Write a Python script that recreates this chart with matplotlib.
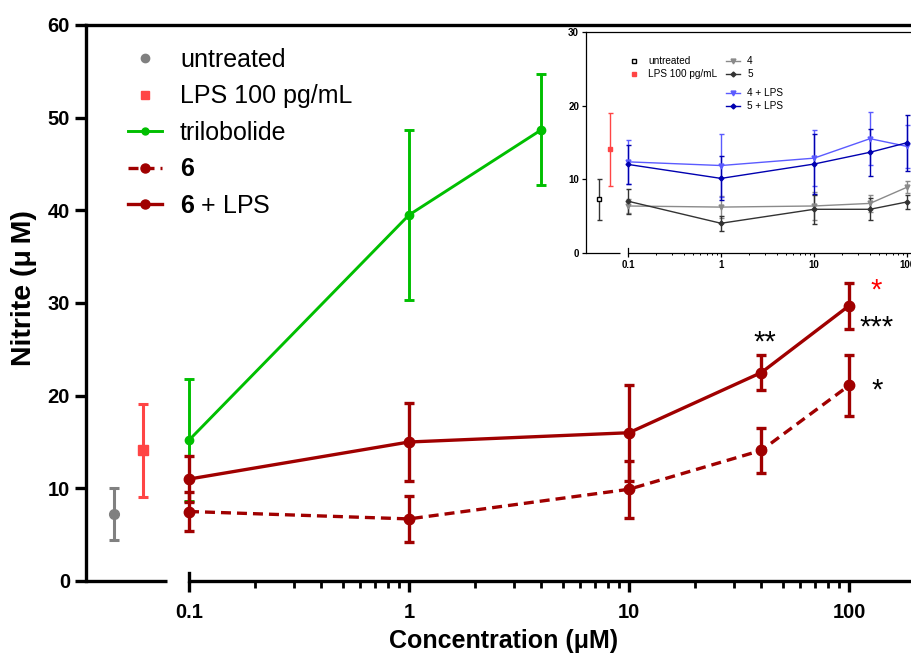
import matplotlib
matplotlib.use("Agg")
import matplotlib.pyplot as plt
from matplotlib.lines import Line2D
from matplotlib.ticker import FixedLocator, FixedFormatter, NullFormatter

plt.rcParams['font.family'] = ['Liberation Sans', 'DejaVu Sans']
plt.rcParams['font.weight'] = 'bold'
plt.rcParams['mathtext.fontset'] = 'custom'
plt.rcParams['mathtext.bf'] = 'Liberation Sans:bold'
plt.rcParams['mathtext.rm'] = 'Liberation Sans'

# ---- data (main plot) ----
untreated_mean, untreated_sd = 7.2, 2.8
lps_mean, lps_sd = 14.1, 5.0

conc_tri = [0.1, 1, 4]
tri_mean = [15.2, 39.5, 48.7]
tri_sd = [6.6, 9.2, 6.0]

conc = [0.1, 1, 10, 40, 100]
c6_mean = [7.5, 6.7, 9.9, 14.1, 21.1]
c6_sd = [2.1, 2.5, 3.1, 2.4, 3.3]
c6lps_mean = [11.0, 15.0, 16.0, 22.5, 29.7]
c6lps_sd = [2.5, 4.2, 5.2, 1.9, 2.5]

# ---- data (inset) ----
in_untreated_mean, in_untreated_sd = 7.25, 2.8
in_lps_mean, in_lps_sd = 14.05, 5.0
c4_mean = [6.35, 6.2, 6.35, 6.7, 8.9]
c4_sd = [1.0, 1.5, 1.9, 1.1, 0.85]
c5_mean = [7.0, 4.0, 5.9, 5.9, 6.9]
c5_sd = [1.7, 1.0, 2.0, 1.5, 1.0]
c4lps_mean = [12.35, 11.85, 12.85, 15.5, 14.45]
c4lps_sd = [3.0, 4.3, 3.8, 3.6, 2.9]
c5lps_mean = [12.0, 10.1, 12.05, 13.65, 14.95]
c5lps_sd = [2.7, 3.0, 4.1, 3.2, 3.8]

GREY = '#808080'
LPSRED = '#ff4545'
GREEN = '#00bf00'
DARKRED = '#a00000'

W, H = 911, 655
fig = plt.figure(figsize=(W / 100, H / 100), dpi=100)


def main_x(px):
    # pixel column -> concentration on the main log axis
    return 10 ** (-1 + (px - 189) / 220)


def inset_x(px):
    return 10 ** (-1 + (px - 628) / 93)


# ================= main axes =================
ax = fig.add_axes([86 / W, 74 / H, (1000 - 86) / W, 556 / H])
ax.set_xscale('log')
ax.set_xlim(main_x(86), main_x(1000))
ax.set_ylim(0, 60)

ctrl_x = [main_x(114), main_x(143)]
ax.errorbar([ctrl_x[0]], [untreated_mean], yerr=[untreated_sd], color=GREY, marker='o',
            ms=7, capsize=3.5, capthick=2.2, elinewidth=2.2)
ax.errorbar([ctrl_x[1]], [lps_mean], yerr=[lps_sd], color=LPSRED, marker='s',
            ms=6.5, capsize=3.5, capthick=2.2, elinewidth=2.2)

ax.errorbar(conc_tri, tri_mean, yerr=tri_sd, color=GREEN, lw=2.1, marker='o', ms=6,
            capsize=3.5, capthick=2.1, elinewidth=2.1)
ax.errorbar(conc, c6_mean, yerr=c6_sd, color=DARKRED, lw=2.4, ls=(0, (3, 1.8)),
            marker='o', ms=7.5, capsize=3.5, capthick=2.4, elinewidth=2.4)
ax.errorbar(conc, c6lps_mean, yerr=c6lps_sd, color=DARKRED, lw=2.4, marker='o',
            ms=7.5, capsize=3.5, capthick=2.4, elinewidth=2.4)

# significance marks
star_kw = dict(fontsize=21, fontweight='normal', ha='center', va='center')
ax.text(main_x(876), 31.3, '*', color='red', **star_kw)
ax.text(main_x(877), 27.3, '***', color='black', **star_kw)
ax.text(main_x(765), 25.7, '**', color='black', **star_kw)
ax.text(main_x(877), 20.6, '*', color='black', **star_kw)

# axes styling, broken x axis
for s in ['left', 'top']:
    ax.spines[s].set_linewidth(2.4)
ax.spines['right'].set_visible(False)
ax.spines['bottom'].set_visible(False)
ax.plot([main_x(86), main_x(167)], [0, 0], color='black', lw=2.4, clip_on=False,
        solid_capstyle='butt')
ax.plot([0.1, main_x(1000)], [0, 0], color='black', lw=2.4, clip_on=False,
        solid_capstyle='butt')
ax.axvline(0.1, ymin=0, ymax=0.014, color='black', lw=2.4, clip_on=False)

ax.xaxis.set_major_locator(FixedLocator([0.1, 1, 10, 100]))
ax.xaxis.set_major_formatter(FixedFormatter(['0.1', '1', '10', '100']))
ax.xaxis.set_minor_locator(FixedLocator([m * 10.0 ** e for e in (-1, 0, 1) for m in range(2, 10)]))
ax.xaxis.set_minor_formatter(NullFormatter())
ax.set_yticks([0, 10, 20, 30, 40, 50, 60])
ax.tick_params(axis='both', which='major', length=8, width=2.4, labelsize=14.5)
ax.tick_params(axis='x', which='major', pad=8)
ax.tick_params(axis='x', which='minor', length=5, width=2.0)

fig.text(24 / W, 1 - 288 / H, 'Nitrite (μ\u2009M)', rotation=90, fontsize=20.5,
         ha='center', va='center')
fig.text(504 / W, 1 - 641 / H, 'Concentration (μM)', fontsize=18,
         ha='center', va='center')

main_handles = [
    Line2D([], [], color=GREY, marker='o', ls='none', ms=6),
    Line2D([], [], color=LPSRED, marker='s', ls='none', ms=6),
    Line2D([], [], color=GREEN, marker='o', lw=2.1, ms=5),
    Line2D([], [], color=DARKRED, marker='o', lw=2.4, ls=(0, (3, 1.8)), ms=6.5),
    Line2D([], [], color=DARKRED, marker='o', lw=2.4, ms=6.5),
]
main_labels = ['untreated', 'LPS 100 pg/mL', 'trilobolide', r'$\mathbf{6}$',
               r'$\mathbf{6}$ + LPS']
fig.legend(main_handles, main_labels, loc='upper left', bbox_to_anchor=(128 / W, 1 - 48 / H),
           frameon=False, borderpad=0, borderaxespad=0, handlelength=1.36,
           handletextpad=0.72, labelspacing=0.5, prop={'size': 18, 'weight': 'normal'})

# ================= inset =================
ins = fig.add_axes([586 / W, (H - 252.7) / H, (1000 - 586) / W, 220.7 / H])
ins.set_xscale('log')
ins.set_xlim(inset_x(586), inset_x(1000))
ins.set_ylim(0, 30)

in_ctrl_x = [inset_x(599), inset_x(610)]
ins.errorbar([in_ctrl_x[0]], [in_untreated_mean], yerr=[in_untreated_sd], color='#333333',
             marker='s', mfc='white', mec='black', ms=3.5, mew=1, capsize=1.8, elinewidth=1)
ins.errorbar([in_ctrl_x[1]], [in_lps_mean], yerr=[in_lps_sd], color=LPSRED,
             marker='s', ms=2.5, capsize=1.8, elinewidth=1)

inset_series = [
    (c4_mean, c4_sd, '#8a8a8a', 'v', 3.5),
    (c5_mean, c5_sd, '#333333', 'D', 2.5),
    (c4lps_mean, c4lps_sd, '#5b5bff', 'v', 3.5),
    (c5lps_mean, c5lps_sd, '#0000b0', 'D', 2.5),
]
for mean, sd, col, mk, ms in inset_series:
    ins.errorbar(conc, mean, yerr=sd, color=col, marker=mk, ms=ms, lw=1,
                 capsize=1.8, elinewidth=1, clip_on=False)

for s in ['left', 'top']:
    ins.spines[s].set_linewidth(0.9)
ins.spines['right'].set_visible(False)
ins.spines['bottom'].set_visible(False)
ins.plot([inset_x(586), inset_x(620)], [0, 0], color='black', lw=0.9, clip_on=False,
         solid_capstyle='butt')
ins.plot([0.1, inset_x(1000)], [0, 0], color='black', lw=0.9, clip_on=False,
         solid_capstyle='butt')
ins.axvline(0.1, ymin=0, ymax=0.02, color='black', lw=0.9, clip_on=False)

ins.xaxis.set_major_locator(FixedLocator([0.1, 1, 10, 100]))
ins.xaxis.set_major_formatter(FixedFormatter(['0.1', '1', '10', '100']))
ins.xaxis.set_minor_locator(FixedLocator([m * 10.0 ** e for e in (-1, 0, 1) for m in range(2, 10)]))
ins.xaxis.set_minor_formatter(NullFormatter())
ins.set_yticks([0, 10, 20, 30])
ins.tick_params(axis='both', which='major', length=3, width=0.9, labelsize=7, pad=2)
ins.tick_params(axis='x', which='minor', length=1.5, width=0.7)

ins_handles_a = [
    Line2D([], [], color='black', marker='s', mfc='white', ls='none', ms=3.5, mew=1),
    Line2D([], [], color=LPSRED, marker='s', ls='none', ms=2.5),
    Line2D([], [], color='#8a8a8a', marker='v', lw=1, ms=3.5),
    Line2D([], [], color='#333333', marker='D', lw=1, ms=2.5),
]
fig.legend(ins_handles_a, ['untreated', 'LPS 100 pg/mL', '4', '5'], ncol=2,
           loc='upper left', bbox_to_anchor=(627 / W, 1 - 56 / H), frameon=False,
           borderpad=0, borderaxespad=0, handlelength=1.4, handletextpad=0.7,
           columnspacing=0.9, labelspacing=0.3, prop={'size': 7.2, 'weight': 'normal'})
ins_handles_b = [
    Line2D([], [], color='#5b5bff', marker='v', lw=1, ms=3.5),
    Line2D([], [], color='#0000b0', marker='D', lw=1, ms=2.5),
]
fig.legend(ins_handles_b, ['4 + LPS', '5 + LPS'], loc='upper left',
           bbox_to_anchor=(726 / W, 1 - 88 / H), frameon=False, borderpad=0,
           borderaxespad=0, handlelength=1.4, handletextpad=0.7, labelspacing=0.3,
           prop={'size': 7.2, 'weight': 'normal'})

fig.savefig('out.png', dpi=100)
